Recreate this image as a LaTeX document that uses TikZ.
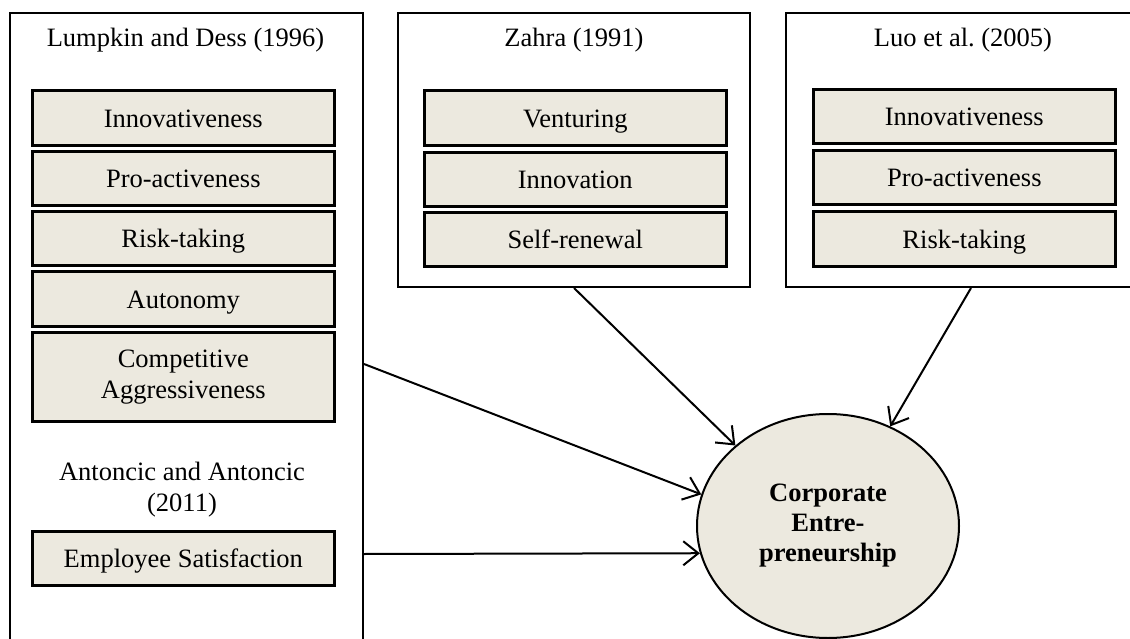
\documentclass[tikz,border=0pt]{standalone}
\usepackage{fontspec}
\setmainfont{Liberation Serif}
\usetikzlibrary{shapes.geometric,arrows.meta,calc}
\definecolor{cfill}{RGB}{236,233,223}
\begin{document}
\begin{tikzpicture}[x=1pt,y=-1pt,
  every node/.style={font=\fontsize{26.5}{31}\selectfont},
  frame/.style={draw, line width=2pt, anchor=north west, inner sep=0pt},
  ibox/.style={draw, fill=cfill, line width=2.6pt, anchor=north west, inner sep=0pt, align=center, minimum width=302pt},
  one/.style={text height=22pt, text depth=3pt},
  ttl/.style={inner sep=0pt, align=center},
  arr/.style={line width=2pt, -{Straight Barb[length=15pt,width=24pt,line width=2pt]}}]
\useasboundingbox (0,0) rectangle (1130,639);
\begin{scope}
\clip (0,0) rectangle (1130,639);
% frames
\node[frame, minimum width=353pt, minimum height=660pt] (lframe) at (9,12) {};
\node[frame, minimum width=352pt, minimum height=274pt] (zframe) at (397,12) {};
\node[frame, minimum width=370pt, minimum height=274pt] (oframe) at (785,12) {};
% titles
\node[ttl, one] (ltitle) at (185.5,37) {Lumpkin and Dess (1996)};
\node[ttl, one] (ztitle) at (574,37) {Zahra (1991)};
\node[ttl, one] (otitle) at (963,37) {Luo et al.\ (2005)};
\node[ttl] (atitle) at (182,490) {Antoncic and Antoncic\\(2011)};
% left inner boxes
\node[ibox, one, minimum height=55pt] (l1) at (31,89) {Innovativeness};
\node[ibox, one, minimum height=54pt] (l2) at (31,150) {Pro-activeness};
\node[ibox, one, minimum height=54pt] (l3) at (31,210) {Risk-taking};
\node[ibox, one, minimum height=55pt] (l4) at (31,270) {Autonomy};
\node[ibox, minimum height=89pt] (l5) at (31,331) {Competitive\\Aggressiveness};
\node[ibox, one, minimum height=54pt] (l6) at (31,530) {Employee Satisfaction};
% Zahra inner boxes
\node[ibox, one, minimum height=55pt] (z1) at (423,89) {Venturing};
\node[ibox, one, minimum height=54pt] (z2) at (423,151) {Innovation};
\node[ibox, one, minimum height=54pt] (z3) at (423,211) {Self-renewal};
% Luo inner boxes
\node[ibox, one, minimum height=54pt] (o1) at (812,88) {Innovativeness};
\node[ibox, one, minimum height=54pt] (o2) at (812,149) {Pro-activeness};
\node[ibox, one, minimum height=55pt] (o3) at (812,210) {Risk-taking};
% central ellipse
\node[ellipse, draw, fill=cfill, line width=2pt, minimum width=262pt, minimum height=224pt, inner sep=0pt, align=center, font=\fontsize{26.5}{30}\selectfont\bfseries] (ce) at (828,526) {Corporate\\Entre-\\preneurship};
% connectors
\draw[arr] (zframe.south) -- (ce.139);
\draw[arr] (oframe.south) -- (ce.58.5);
\draw[arr] ($(lframe.north east)+(0,352)$) -- (ce.166);
\draw[arr] ($(lframe.north east)+(0,542)$) -- (ce.192.5);
\end{scope}
\end{tikzpicture}
\end{document}
